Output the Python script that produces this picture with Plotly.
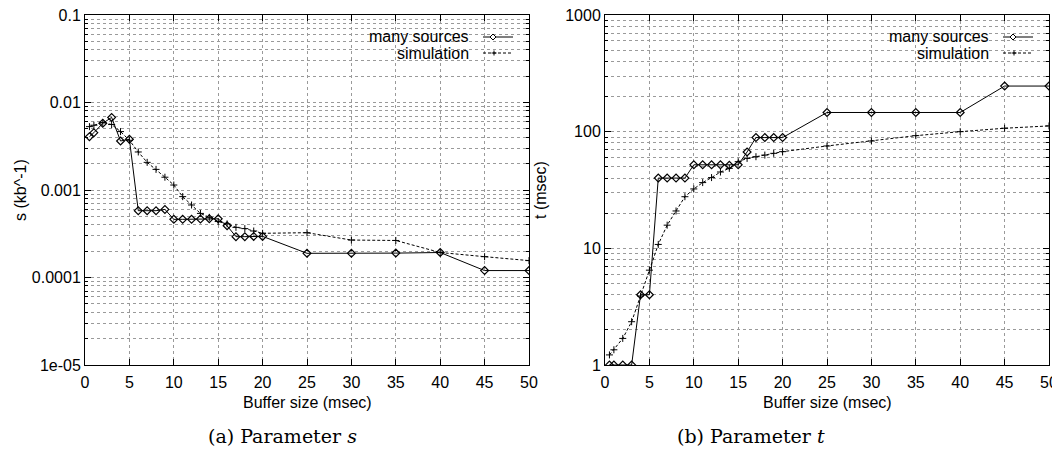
import plotly.graph_objects as go

# ---- data ----
buffer_ms = [0.5, 1, 2, 3, 4, 5, 6, 7, 8, 9, 10, 11, 12, 13, 14, 15, 16, 17, 18, 19, 20,
             25, 30, 35, 40, 45, 50]
s_many = [0.00407, 0.00452, 0.00578, 0.00676, 0.00363, 0.0038, 0.00058, 0.00058, 0.00058,
          0.0006, 0.000462, 0.000462, 0.000462, 0.000465, 0.00047, 0.000468, 0.00039,
          0.000293, 0.000293, 0.000295, 0.000295, 0.000189, 0.000189, 0.00019, 0.000193,
          0.00012, 0.00012]
s_sim = [0.0053, 0.0055, 0.0059, 0.0056, 0.00465, 0.0037, 0.00272, 0.00207, 0.00172, 0.0014,
         0.00114, 0.00084, 0.000674, 0.00054, 0.000487, 0.000436, 0.00041, 0.000374,
         0.000362, 0.00034, 0.00032, 0.000325, 0.000268, 0.000265, 0.000193, 0.000173,
         0.000156]
t_many = [1, 1, 1, 1, 4, 4, 40, 40, 40, 40, 52, 52, 52, 52, 51.5, 52, 67, 89, 89, 89, 89,
          146, 146, 146, 146, 246, 246]
t_sim = [1.22, 1.35, 1.69, 2.35, 3.9, 6.5, 10.8, 15.8, 20.9, 27.7, 32.3, 36.6, 40.4, 45.1,
         48.5, 55.3, 59, 61, 63, 65.2, 67.4, 75.4, 83.2, 92.4, 100, 107, 112]

x_ticks = [0, 5, 10, 15, 20, 25, 30, 35, 40, 45, 50]
s_tickvals = [1e-5, 1e-4, 1e-3, 1e-2, 1e-1]
s_ticktext = ["1e-05", "0.0001", "0.001", "0.01", "0.1"]
t_tickvals = [1, 10, 100, 1000]
t_ticktext = ["1", "10", "100", "1000"]

series_names = ["many sources", "simulation"]
x_title = "Buffer size (msec)"
y_titles = ["s (kb^-1)", "t (msec)"]
captions = ["(a) Parameter <i>s</i>", "(b) Parameter <i>t</i>"]

# page body has an 8px default margin: size the figure so it fills the window
OFF = 8
W, H = 1060 - OFF, 453 - OFF
FONT = "Liberation Sans, Arial, sans-serif"
GRID = "#9a9a9a"

def px(x):
    return (x - OFF) / W

def py(y):
    return (H - (y - OFF)) / H

fig = go.Figure()

many_style = dict(mode="lines+markers", line=dict(color="black", width=1),
                  marker=dict(symbol="diamond-open", size=6, color="black",
                              line=dict(width=1.2, color="black")), showlegend=False)
sim_style = dict(mode="lines+markers", line=dict(color="black", width=1, dash="3px,2px"),
                 marker=dict(symbol="cross-thin-open", size=5, color="black",
                             line=dict(width=1, color="black")), showlegend=False)

fig.add_trace(go.Scatter(x=buffer_ms, y=s_many, name=series_names[0], xaxis="x", yaxis="y", **many_style))
fig.add_trace(go.Scatter(x=buffer_ms, y=s_sim, name=series_names[1], xaxis="x", yaxis="y", **sim_style))
fig.add_trace(go.Scatter(x=buffer_ms, y=t_many, name=series_names[0], xaxis="x2", yaxis="y2", **many_style))
fig.add_trace(go.Scatter(x=buffer_ms, y=t_sim, name=series_names[1], xaxis="x2", yaxis="y2", **sim_style))

left_dom = [px(85), px(529)]
right_dom = [px(605), px(1049)]
y_dom = [py(365), py(15)]

common_axis = dict(showline=True, linecolor="black", linewidth=1, mirror="ticks",
                   ticks="inside", ticklen=6, tickcolor="black", tickwidth=1,
                   showgrid=True, gridcolor=GRID, griddash="dot", gridwidth=1,
                   zeroline=False, automargin=False, ticklabeloverflow="allow",
                   tickfont=dict(family=FONT, size=16, color="black"))

xaxis_cfg = dict(range=[0, 50], tickmode="array", tickvals=x_ticks,
                 ticklabelstandoff=3, **common_axis)
minor_cfg = dict(ticks="inside", ticklen=3, tickcolor="black", dtick="D1",
                 showgrid=True, gridcolor=GRID, griddash="dot", gridwidth=1)

fig.update_layout(
    width=W, height=H,
    margin=dict(l=0, r=0, t=0, b=0, autoexpand=False),
    paper_bgcolor="white", plot_bgcolor="white",
    xaxis=dict(domain=left_dom, anchor="y", **xaxis_cfg),
    xaxis2=dict(domain=right_dom, anchor="y2", **xaxis_cfg),
    yaxis=dict(domain=y_dom, anchor="x", type="log", range=[-5, -1],
               tickmode="array", tickvals=s_tickvals, ticktext=s_ticktext,
               minor=minor_cfg, **common_axis),
    yaxis2=dict(domain=y_dom, anchor="x2", type="log", range=[0, 3],
                tickmode="array", tickvals=t_tickvals, ticktext=t_ticktext,
                minor=minor_cfg, **common_axis),
)

annotations = []
shapes = []
font = dict(family=FONT, size=16, color="black")
for i, (x0, x1) in enumerate([(85, 529), (605, 1049)]):
    cx = (x0 + x1) / 2
    annotations.append(dict(text=x_title, x=px(cx), y=py(402), xref="paper", yref="paper",
                            showarrow=False, font=font, xanchor="center", yanchor="middle"))
    annotations.append(dict(text=y_titles[i], x=px(x0 - 64), y=py(190), xref="paper", yref="paper",
                            showarrow=False, font=font, textangle=-90,
                            xanchor="center", yanchor="middle"))
    # legend
    off = x1 - 529
    for j, (name, ly) in enumerate(zip(series_names, [37, 53])):
        annotations.append(dict(text=name, x=px(471 + off), y=py(ly), xref="paper", yref="paper",
                                showarrow=False, font=font, xanchor="right", yanchor="middle"))
        shapes.append(dict(type="line", xref="paper", yref="paper",
                           x0=px(483 + off), x1=px(513 + off), y0=py(ly), y1=py(ly),
                           line=dict(color="black", width=1, dash="solid" if j == 0 else "3px,2px")))
    mx, my = 493 + off, 37
    shapes.append(dict(type="path", xref="paper", yref="paper", fillcolor="white",
                       path=f"M {px(mx-3)},{py(my)} L {px(mx)},{py(my-3)} L {px(mx+3)},{py(my)} L {px(mx)},{py(my+3)} Z",
                       line=dict(color="black", width=1)))
    mx, my = 494 + off, 53
    shapes.append(dict(type="line", xref="paper", yref="paper",
                       x0=px(mx - 2.5), x1=px(mx + 2.5), y0=py(my), y1=py(my),
                       line=dict(color="black", width=1)))
    shapes.append(dict(type="line", xref="paper", yref="paper",
                       x0=px(mx), x1=px(mx), y0=py(my - 2.5), y1=py(my + 2.5),
                       line=dict(color="black", width=1)))

annotations.append(dict(text=captions[0], x=px(282), y=py(436), xref="paper", yref="paper",
                        showarrow=False, font=dict(family="DejaVu Serif", size=19, color="black"),
                        xanchor="center", yanchor="middle"))
annotations.append(dict(text=captions[1], x=px(751), y=py(436), xref="paper", yref="paper",
                        showarrow=False, font=dict(family="DejaVu Serif", size=19, color="black"),
                        xanchor="center", yanchor="middle"))

fig.update_layout(annotations=annotations, shapes=shapes)
fig.write_html("out.html")
